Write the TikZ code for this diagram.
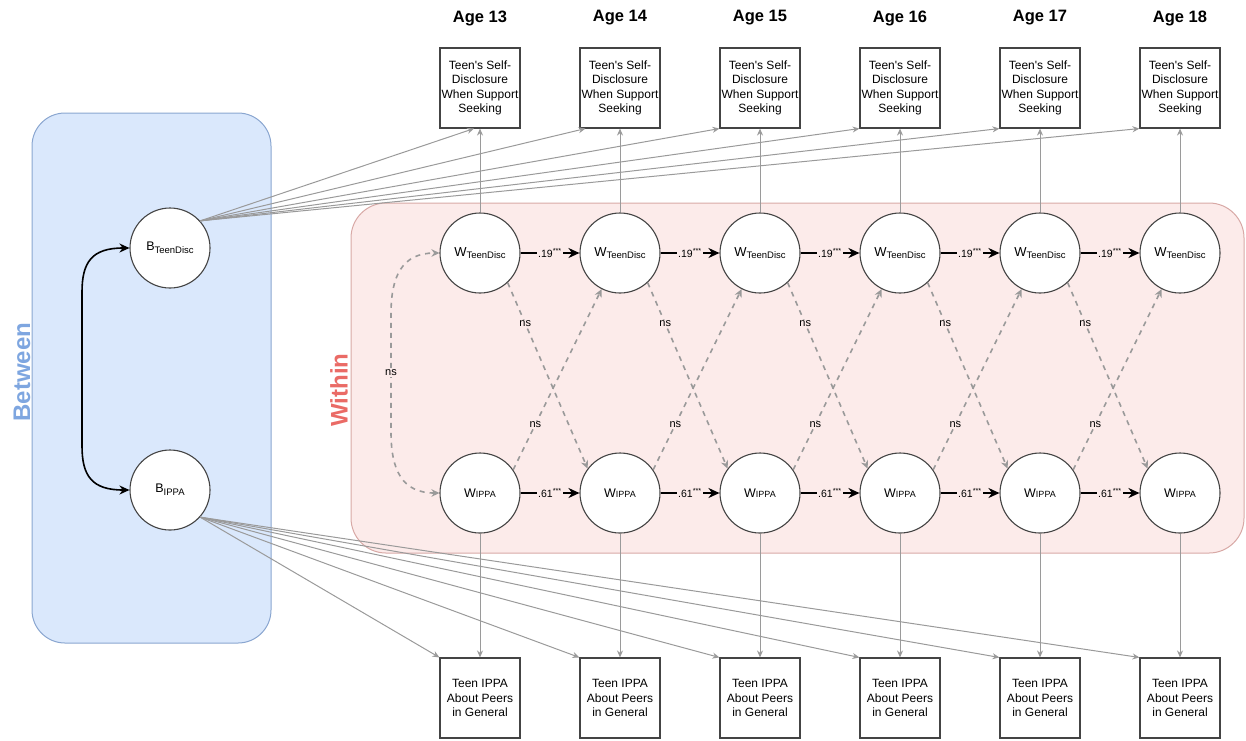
\documentclass[tikz,border=0pt]{standalone}
\usepackage{fontspec}
\setmainfont{Liberation Sans}
\usetikzlibrary{arrows.meta,calc}

\definecolor{betweenfill}{HTML}{DAE8FC}
\definecolor{betweenline}{HTML}{8AA6D0}
\definecolor{betweentext}{HTML}{7EA6E0}
\definecolor{withinfill}{HTML}{FCEBEA}
\definecolor{withinline}{HTML}{D8A9A6}
\definecolor{withintext}{HTML}{EA6B66}
\definecolor{pathgray}{HTML}{9A9A9A}
\definecolor{shapeline}{HTML}{444444}

\newcommand{\sdtext}{Teen\textquotesingle s Self-\\Disclosure\\When Support\\Seeking}
\newcommand{\ippatext}{Teen IPPA\\About Peers\\in General}
\newcommand{\wdisc}{{\fontsize{13}{15}\selectfont W}\raisebox{-2pt}{\fontsize{9.5}{11}\selectfont TeenDisc}}
\newcommand{\wippa}{{\fontsize{12.5}{15}\selectfont W}\raisebox{-0.5pt}{\fontsize{9}{11}\selectfont IPPA}}
\newcommand{\bdisc}{{\fontsize{12.5}{15}\selectfont B}\raisebox{-3pt}{\fontsize{9.5}{11}\selectfont TeenDisc}}
\newcommand{\bippa}{{\fontsize{12.5}{15}\selectfont B}\raisebox{-3pt}{\fontsize{9.5}{11}\selectfont IPPA}}

\tikzset{
  latent/.style={circle, draw=shapeline, line width=1.1pt, fill=white,
    minimum size=80pt, inner sep=0pt},
  obsbox/.style={draw=shapeline, line width=1.1pt, fill=white,
    minimum width=80pt, minimum height=80pt, inner sep=0pt, align=center,
    font=\fontsize{12}{14.3}\selectfont},
  agelabel/.style={font=\fontsize{16.5}{18}\selectfont\bfseries},
  grayarrow/.style={draw=pathgray, line width=1pt,
    -{Stealth[length=7pt,width=6pt]}},
  autoreg/.style={draw=black, line width=2pt,
    -{Stealth[length=11pt,width=10pt]}},
  crossarrow/.style={draw=pathgray, line width=1.6pt,
    dash pattern=on 5pt off 5pt, -{Stealth[length=8pt,width=7.5pt]}},
  coeflabel/.style={fill=withinfill, inner sep=1pt,
    font=\fontsize{10.5}{12}\selectfont},
  nslabel/.style={fill=withinfill, inner sep=1pt,
    font=\fontsize{11}{12}\selectfont},
  panellabel/.style={rotate=90, font=\fontsize{24}{26}\selectfont\bfseries}
}

\begin{document}
\begin{tikzpicture}[x=1pt, y=-1pt]
\useasboundingbox (0,0) rectangle (1246,740);

% panels
\draw[fill=betweenfill, draw=betweenline, line width=1pt, rounded corners=33pt]
  (32,113) rectangle (271,643);
\draw[fill=withinfill, draw=withinline, line width=1pt, rounded corners=35pt]
  (351,203) rectangle (1244,553);
\node[panellabel, text=betweentext] (between) at (22,372) {Between};
\node[panellabel, text=withintext] (within) at (339,390) {Within};

% between-person factors
\node[latent] (B1) at (170,248) {\bdisc};
\node[latent] (B2) at (170,490) {\bippa};

% indicators and within-person factors per wave
\foreach \i in {1,...,6} {
  \pgfmathsetmacro\cx{340+140*\i}
  \pgfmathtruncatemacro\age{12+\i}
  \node[agelabel] (A\i) at (\cx,18) {Age \age};
  \node[obsbox] (S\i) at (\cx,88) {\sdtext};
  \node[obsbox] (P\i) at (\cx,698) {\ippatext};
  \node[latent] (T\i) at (\cx,253) {\wdisc};
  \node[latent] (I\i) at (\cx,493) {\wippa};
  \draw[grayarrow] (T\i) -- (S\i);
  \draw[grayarrow] (I\i) -- (P\i);
}

% between-person loadings
\draw[grayarrow] (B1.42) -- ($(S1.south)+(-6,0)$);
\draw[grayarrow] (B1.42) -- ($(S2.south west)+(6,0)$);
\foreach \i in {3,...,6} {
  \draw[grayarrow] (B1.42) -- (S\i.south west);
}
\foreach \i in {1,...,6} {
  \draw[grayarrow] (B2.-42) -- (P\i.north west);
}

% between-person covariance
\draw[line width=1.6pt, {Stealth[length=10pt,width=9pt]}-{Stealth[length=10pt,width=9pt]}]
  (B1.west) .. controls (92,248) and (82,262) .. (82,292)
  -- (82,446) .. controls (82,476) and (92,490) .. (B2.west);

% within-person covariance at age 13
\draw[crossarrow, {Stealth[length=8pt,width=7.5pt]}-{Stealth[length=8pt,width=7.5pt]}]
  (I1.west) .. controls (402,493) and (391,470) .. (391,432)
  -- node[nslabel] (ns0) {ns} (391,314)
  .. controls (391,276) and (402,253) .. (T1.west);

% autoregressive and cross-lagged paths
\foreach \i in {1,...,5} {
  \pgfmathtruncatemacro\j{\i+1}
  \draw[autoreg] (T\i) -- node[coeflabel, pos=0.5] (c\i) {.19\textsuperscript{***}} (T\j);
  \draw[autoreg] (I\i) -- node[coeflabel, pos=0.5] (d\i) {.61\textsuperscript{***}} (I\j);
  \draw[crossarrow] (T\i.-47) -- node[nslabel, pos=0.22] (e\i) {ns} (I\j.143);
  \draw[crossarrow] (I\i.35) -- node[nslabel, pos=0.25] (f\i) {ns} (T\j.-117);
}
\end{tikzpicture}
\end{document}
